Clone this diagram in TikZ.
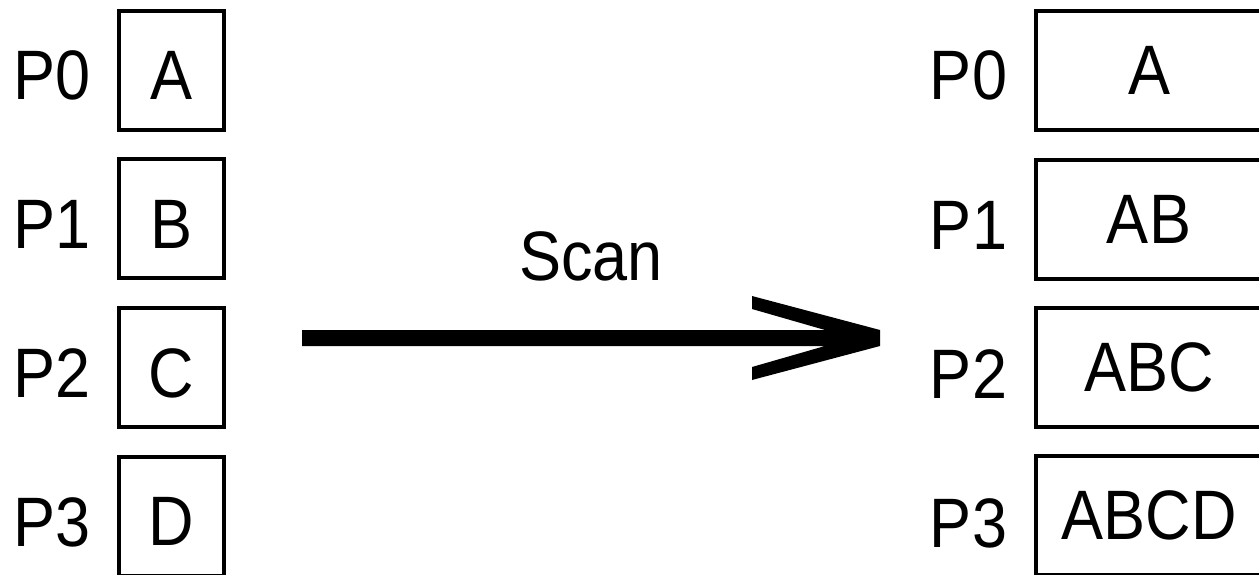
\documentclass[tikz,border=0pt]{standalone}
\usepackage{fontspec}
\setmainfont{Liberation Sans}[FakeStretch=0.9]
\usetikzlibrary{calc}
\begin{document}
\begin{tikzpicture}[x=1pt,y=-1pt,
  txt/.style={font=\fontsize{70}{70}\selectfont, inner sep=0pt, outer sep=0pt},
  lbox/.style={txt, draw, line width=4pt, minimum width=105pt, minimum height=119pt, text height=59pt, text depth=0pt},
  rbox/.style={txt, draw, line width=4pt, minimum width=226pt, minimum height=119pt, text height=48pt, text depth=0pt},
  plabel/.style={txt, anchor=base},
]
\useasboundingbox (0,0) rectangle (1259,575);
% left column
\node[lbox] (l0) at (171.5,70.5) {A};
\node[lbox] (l1) at (171.5,218.5) {B};
\node[lbox] (l2) at (171.5,367.5) {C};
\node[lbox] (l3) at (171.5,516) {D};
\node[plabel] (lp0) at (52.5,100) {P0};
\node[plabel] (lp1) at (52.5,248) {P1};
\node[plabel] (lp2) at (52.5,397) {P2};
\node[plabel] (lp3) at (52.5,546) {P3};
% right column
\node[rbox] (r0) at (1149,70.5) {A};
\node[rbox] (r1) at (1149,219.5) {AB};
\node[rbox] (r2) at (1149,367.5) {ABC};
\node[rbox] (r3) at (1149,515) {ABCD};
\node[plabel] (rp0) at (968.5,100) {P0};
\node[plabel] (rp1) at (968.5,249) {P1};
\node[plabel] (rp2) at (968.5,398) {P2};
\node[plabel] (rp3) at (968.5,547) {P3};
% arrow
\node[plabel] (scan) at (591,280) {Scan};
\coordinate (s) at (302,338);
\coordinate (e) at (880,338);
\fill ($(s)+(0,-8)$) -- ($(e)+(-55,-8)$) -- ($(e)+(-128,-29)$) -- ($(e)+(-128,-42)$)
  -- ($(e)+(0,-8)$) -- ($(e)+(0,8)$) -- ($(e)+(-128,42)$) -- ($(e)+(-128,29)$)
  -- ($(e)+(-55,8)$) -- ($(s)+(0,8)$) -- cycle;
\end{tikzpicture}
\end{document}
